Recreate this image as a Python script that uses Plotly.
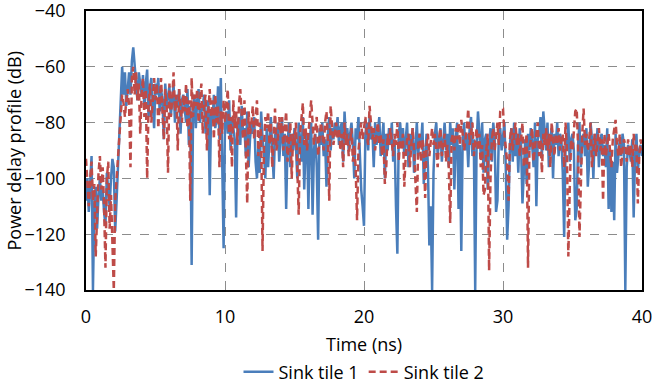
import numpy as np
import plotly.graph_objects as go

time_ns = [round(i * 0.1, 1) for i in range(401)]

sink_tile_1 = [
    -108, -100, -112, -104, -92, -140, -110, -103, -118, -106,
    -100, -108, -104, -112, -117, -98, -106, -110, -100, -93,
    -96, -119, -108, -95, -82, -72, -60, -70, -62, -74,
    -66, -62, -70, -58, -53, -60, -64, -72, -62, -66,
    -70, -63, -75, -66, -61, -78, -68, -64, -72, -82,
    -66, -70, -64, -76, -68, -72, -86, -66, -74, -70,
    -67, -78, -72, -66, -80, -70, -74, -68, -84, -72,
    -70, -76, -80, -68, -88, -74, -131, -78, -70, -82,
    -72, -68, -80, -76, -74, -70, -84, -78, -72, -106,
    -76, -80, -70, -82, -78, -67, -86, -64, -90, -125,
    -80, -76, -84, -72, -90, -78, -82, -86, -114, -80,
    -78, -88, -74, -84, -82, -92, -76, -96, -86, -80,
    -84, -78, -94, -100, -88, -98, -76, -86, -90, -100,
    -82, -96, -86, -78, -90, -100, -84, -88, -80, -94,
    -86, -78, -92, -84, -111, -88, -80, -96, -84, -90,
    -82, -88, -100, -80, -86, -94, -78, -104, -88, -84,
    -111, -86, -80, -113, -90, -84, -96, -122, -82, -88,
    -80, -92, -86, -103, -84, -78, -90, -82, -86, -80,
    -84, -78, -88, -82, -80, -94, -76, -86, -82, -90,
    -84, -80, -88, -100, -82, -86, -78, -92, -104, -110,
    -117, -84, -80, -90, -78, -86, -82, -96, -80, -88,
    -84, -78, -92, -86, -80, -100, -84, -90, -82, -88,
    -80, -94, -86, -110, -127, -84, -80, -88, -82, -92,
    -86, -80, -96, -84, -90, -82, -98, -86, -80, -92,
    -84, -88, -80, -102, -90, -84, -96, -124, -110, -140,
    -98, -84, -80, -92, -86, -82, -94, -88, -80, -90,
    -84, -96, -80, -88, -82, -104, -86, -80, -111, -88,
    -126, -86, -80, -90, -84, -96, -82, -78, -92, -86,
    -140, -88, -76, -84, -92, -80, -98, -86, -84, -104,
    -88, -82, -94, -80, -86, -112, -108, -84, -82, -90,
    -86, -80, -96, -122, -110, -88, -82, -94, -80, -92,
    -84, -98, -82, -88, -109, -94, -86, -102, -84, -90,
    -82, -88, -96, -80, -110, -86, -84, -78, -92, -76,
    -84, -90, -80, -96, -86, -82, -100, -84, -88, -80,
    -92, -84, -86, -98, -121, -88, -88, -80, -94, -86,
    -84, -90, -115, -111, -88, -80, -96, -86, -84, -92,
    -82, -103, -94, -80, -86, -100, -84, -90, -82, -96,
    -86, -84, -92, -88, -96, -82, -111, -90, -112, -94,
    -115, -84, -98, -90, -86, -92, -84, -88, -140, -96,
    -88, -90, -94, -86, -114, -92, -84, -98, -90, -88,
    -92,
]

sink_tile_2 = [
    -93, -104, -110, -100, -94, -108, -102, -128, -112, -98,
    -92, -104, -96, -110, -132, -100, -94, -118, -106, -122,
    -140, -108, -100, -92, -84, -76, -70, -73, -78, -72,
    -68, -74, -96, -64, -60, -70, -62, -72, -66, -84,
    -70, -64, -78, -68, -100, -74, -66, -80, -70, -64,
    -72, -66, -82, -70, -64, -76, -86, -68, -74, -98,
    -66, -78, -72, -62, -76, -70, -90, -68, -74, -80,
    -70, -76, -66, -82, -72, -108, -64, -78, -70, -74,
    -68, -80, -72, -66, -84, -74, -70, -90, -76, -68,
    -78, -72, -86, -70, -80, -74, -96, -76, -84, -72,
    -80, -74, -68, -86, -78, -96, -72, -82, -76, -88,
    -74, -68, -80, -86, -72, -90, -109, -76, -84, -80,
    -74, -86, -78, -72, -92, -80, -84, -126, -90, -78,
    -82, -76, -88, -80, -96, -84, -75, -90, -86, -78,
    -84, -78, -90, -82, -76, -94, -86, -80, -100, -84,
    -88, -80, -96, -113, -84, -78, -73, -88, -82, -90,
    -84, -76, -72, -80, -88, -82, -78, -92, -86, -80,
    -84, -90, -80, -76, -86, -108, -74, -82, -88, -84,
    -80, -86, -82, -90, -84, -96, -80, -88, -84, -92,
    -86, -82, -94, -88, -96, -115, -90, -84, -80, -86,
    -82, -78, -84, -88, -74, -80, -86, -82, -90, -84,
    -80, -88, -84, -92, -86, -102, -96, -84, -88, -82,
    -86, -92, -84, -88, -80, -94, -86, -90, -84, -103,
    -92, -86, -84, -96, -88, -82, -90, -100, -112, -88,
    -84, -94, -86, -90, -107, -88, -84, -92, -86, -82,
    -88, -84, -90, -96, -86, -82, -92, -88, -84, -94,
    -88, -96, -116, -86, -84, -90, -82, -86, -80, -88,
    -79, -84, -90, -86, -82, -75, -88, -84, -80, -92,
    -86, -82, -90, -84, -96, -88, -106, -104, -90, -84,
    -133, -100, -86, -82, -90, -84, -80, -88, -76, -75,
    -75, -84, -88, -94, -108, -86, -82, -90, -84, -80,
    -88, -84, -92, -86, -80, -96, -88, -84, -132, -90,
    -86, -82, -94, -88, -84, -80, -92, -86, -98, -84,
    -88, -82, -90, -84, -96, -80, -86, -92, -84, -88,
    -82, -90, -86, -84, -96, -80, -90, -128, -104, -86,
    -90, -84, -76, -75, -88, -121, -96, -84, -75, -88,
    -84, -90, -86, -80, -96, -88, -84, -92, -86, -82,
    -90, -86, -108, -84, -92, -88, -84, -90, -96, -86,
    -82, -79, -88, -92, -84, -96, -90, -86, -88, -94,
    -86, -92, -88, -96, -84, -90, -88, -109, -92, -86,
    -90,
]

x_ticks = [0, 10, 20, 30, 40]
y_ticks = [-140, -120, -100, -80, -60, -40]

FONT = "'Open Sans', sans-serif"
FS = 18

fig = go.Figure()
fig.add_trace(go.Scatter(
    x=time_ns, y=sink_tile_1, mode="lines", name="Sink tile 1",
    line=dict(color="#4A7EBB", width=2.5),
))
fig.add_trace(go.Scatter(
    x=time_ns, y=sink_tile_2, mode="lines", name="Sink tile 2",
    line=dict(color="#BE4B48", width=2.5, dash="7px,4px"),
))

fig.update_layout(
    width=652, height=388,
    margin=dict(l=86, r=10, t=11, b=98, autoexpand=False),
    paper_bgcolor="white", plot_bgcolor="white",
    font=dict(family=FONT, size=FS, color="#000000"),
    showlegend=True,
    legend=dict(orientation="h", x=0.5, xanchor="center",
                yref="container", y=0.041, yanchor="middle",
                font=dict(family=FONT, size=FS), itemwidth=30,
                bgcolor="rgba(0,0,0,0)"),
    xaxis=dict(
        range=[0, 40], tickvals=x_ticks, ticks="outside", ticklen=10,
        tickcolor="rgba(0,0,0,0)", ticklabeloverflow="allow",
        showgrid=True, gridcolor="#8c8c8c", griddash="dash", gridwidth=1,
        showline=True, linecolor="#000000", linewidth=1.5, mirror=True,
        zeroline=False, automargin=False,
        tickfont=dict(family=FONT, size=FS),
    ),
    yaxis=dict(
        range=[-140, -40], tickvals=y_ticks, ticks="outside", ticklen=15,
        tickcolor="rgba(0,0,0,0)", ticklabeloverflow="allow",
        showgrid=True, gridcolor="#8c8c8c", griddash="dash", gridwidth=1,
        showline=True, linecolor="#000000", linewidth=1.5, mirror=True,
        zeroline=False, automargin=False,
        tickfont=dict(family=FONT, size=FS),
    ),
    annotations=[
        dict(text="Time (ns)", xref="paper", yref="paper", x=0.5, y=-0.1935,
             xanchor="center", yanchor="middle", showarrow=False,
             font=dict(family=FONT, size=FS)),
        dict(text="Power delay profile (dB)", xref="paper", yref="paper",
             x=-0.1295, y=0.5, xanchor="center", yanchor="middle", textangle=-90,
             showarrow=False, font=dict(family=FONT, size=FS)),
    ],
)

fig.write_html(
    "out.html",
    config={"displayModeBar": False},
    post_script="document.documentElement.style.margin='0';document.body.style.margin='0';document.body.style.overflow='hidden';",
)
